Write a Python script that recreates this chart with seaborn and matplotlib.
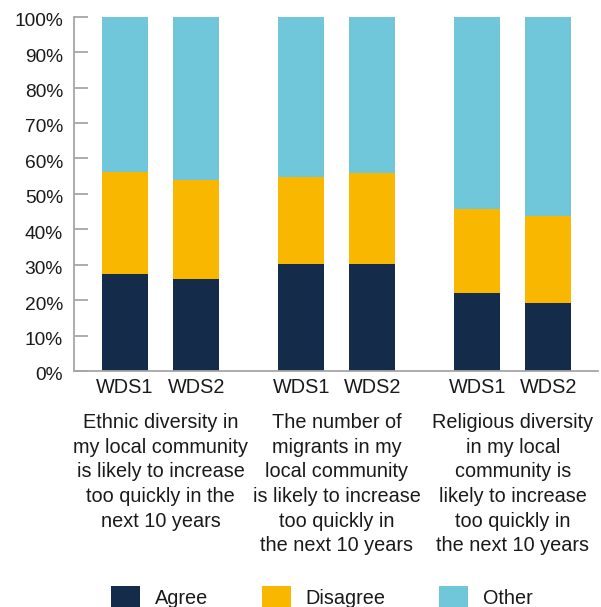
import numpy as np
import pandas as pd
import matplotlib
matplotlib.use("Agg")
import matplotlib.pyplot as plt
import matplotlib.transforms as mtransforms
from matplotlib.patches import Patch
import seaborn as sns

# Survey results (% of respondents), two waves per statement
waves = ["WDS1", "WDS2", "WDS1", "WDS2", "WDS1", "WDS2"]
positions = [0.0, 1.0, 2.48, 3.48, 4.96, 5.96]
agree = [27.4, 26.0, 30.2, 30.2, 22.0, 19.2]
disagree = [28.8, 28.0, 24.6, 25.7, 23.7, 24.6]
other = [43.8, 46.0, 45.2, 44.1, 54.3, 56.2]
statements = [
    "Ethnic diversity in\nmy local community\nis likely to increase\ntoo quickly in the\nnext 10 years",
    "The number of\nmigrants in my\nlocal community\nis likely to increase\ntoo quickly in\nthe next 10 years",
    "Religious diversity\nin my local\ncommunity is\nlikely to increase\ntoo quickly in\nthe next 10 years",
]
series = ["Agree", "Disagree", "Other"]
colors = {"Agree": "#142b4a", "Disagree": "#f9b700", "Other": "#6fc7d9"}

sns.set_style("white")
plt.rcParams["font.family"] = ["Liberation Sans", "DejaVu Sans"]
text_color = "#1a1a1a"
axis_color = "#a6a6a6"
fs = 14.3
fs_y = 13.8

df = pd.DataFrame({"pos": positions, "wave": waves,
                   "Agree": agree, "Disagree": disagree, "Other": other})
df["cum_agree"] = df["Agree"]
df["cum_disagree"] = df["Agree"] + df["Disagree"]
df["cum_other"] = df["cum_disagree"] + df["Other"]

fig = plt.figure(figsize=(6.01, 6.07), dpi=100)
ax = fig.add_axes([74 / 601, 1 - 371 / 607, (598 - 74) / 601, (371 - 16.7) / 607])

# stacked bars drawn as overlapping cumulative totals, tallest first
for col, name in [("cum_other", "Other"), ("cum_disagree", "Disagree"), ("cum_agree", "Agree")]:
    sns.barplot(data=df, x="pos", y=col, native_scale=True, width=0.65,
                color=colors[name], saturation=1, linewidth=0, ax=ax, errorbar=None)

ax.set_xlim(-0.72, 6.66)
ax.set_ylim(0, 100)
ax.set_xlabel("")
ax.set_ylabel("")

ax.set_yticks(np.arange(0, 101, 10))
ax.set_yticklabels([f"{v}%" for v in range(0, 101, 10)])
ax.set_xticks(positions)
ax.set_xticklabels(waves)
ax.tick_params(axis="y", direction="in", length=10, width=1.3, color=axis_color,
               pad=8, labelsize=fs_y, labelcolor=text_color, left=True)
ax.tick_params(axis="x", length=0, pad=5, labelsize=fs, labelcolor=text_color)
shift = mtransforms.ScaledTranslation(0, -3 / 100, fig.dpi_scale_trans)
for lbl in ax.get_yticklabels():
    lbl.set_transform(lbl.get_transform() + shift)

for side in ["top", "right"]:
    ax.spines[side].set_visible(False)
for side in ["left", "bottom"]:
    ax.spines[side].set_color(axis_color)
    ax.spines[side].set_linewidth(1.3)

# statement captions under each pair of bars
group_centers = [(positions[0] + positions[1]) / 2,
                 (positions[2] + positions[3]) / 2,
                 (positions[4] + positions[5]) / 2]
for gx, label in zip(group_centers, statements):
    ax.text(gx, -0.118, label, transform=ax.get_xaxis_transform(),
            ha="center", va="top", fontsize=fs, color=text_color,
            linespacing=1.38, multialignment="center")

handles = [Patch(facecolor=colors[s], edgecolor="none", label=s) for s in series]
fig.legend(handles=handles, loc="center left", bbox_to_anchor=(111 / 601, 0.015), ncol=3,
           frameon=False, fontsize=fs, handlelength=1.46, handleheight=1.46,
           handletextpad=0.75, columnspacing=2.7, borderpad=0, borderaxespad=0,
           labelcolor=text_color)

fig.savefig("out.png", dpi=100, facecolor="white")
